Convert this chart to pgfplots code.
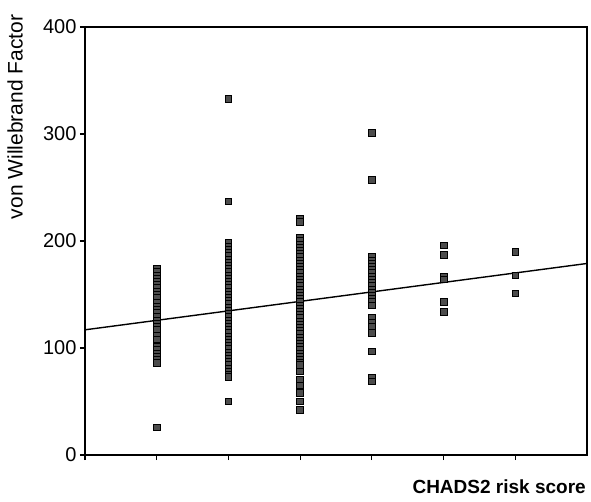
\documentclass[border=0pt]{standalone}
\usepackage{fontspec}
\setmainfont{Liberation Sans}
\usepackage{pgfplots}
\pgfplotsset{compat=1.18}
\begin{document}
\begin{tikzpicture}
\begin{axis}[
  scale only axis,
  width=502pt, height=428pt,
  xmin=-1, xmax=6, ymin=0, ymax=400,
  xtick={-1,0,1,2,3,4,5}, xticklabels={},
  ytick={0,100,200,300,400},
  tick align=outside, tick pos=left,
  major tick length=5pt,
  axis line style={line width=1.6pt},
  every tick/.style={black, line width=1.2pt},
  /pgf/number format/assume math mode=true,
  tick label style={font=\fontsize{20}{22}\selectfont},
  ylabel={von Willebrand Factor},
  ylabel style={at={(axis description cs:-0.139,0.79)}, anchor=center, font=\fontsize{21}{23}\selectfont},
  xlabel={CHADS2 risk score},
  xlabel style={at={(axis description cs:0.825,-0.075)}, anchor=center, font=\fontsize{19}{21}\selectfont\bfseries},
  clip=false,
]
\addplot[only marks, mark=square*, mark size=3.3pt, mark options={fill=black!70, draw=black, line width=0.7pt}] coordinates {
 (0,174) (0,171) (0,168) (0,165) (0,162) (0,159) (0,156) (0,153) (0,150) (0,147)
 (0,142) (0,139) (0,136) (0,133) (0,129) (0,126) (0,123) (0,120) (0,117)
 (0,112) (0,108) (0,101) (0,98) (0,95) (0,92) (0,89) (0,86) (0,26)
 (1,333) (1,237) (1,198) (1,195) (1,192) (1,189) (1,186) (1,183) (1,180) (1,177) (1,174) (1,171)
 (1,168) (1,165) (1,162) (1,159) (1,156) (1,153) (1,150) (1,147) (1,144) (1,141) (1,138)
 (1,135) (1,132) (1,129) (1,126) (1,123) (1,120) (1,117) (1,114) (1,111) (1,108) (1,105)
 (1,102) (1,99) (1,96) (1,93) (1,90) (1,87) (1,84) (1,81) (1,78) (1,75) (1,73) (1,50)
 (2,221) (2,218) (2,203) (2,200) (2,197) (2,194) (2,191) (2,188) (2,185) (2,182) (2,179)
 (2,176) (2,173) (2,170) (2,167) (2,164) (2,161) (2,158) (2,155) (2,152) (2,149) (2,146)
 (2,143) (2,140) (2,137) (2,134) (2,131) (2,128) (2,125) (2,122) (2,119) (2,116) (2,113)
 (2,110) (2,107) (2,104) (2,101) (2,98) (2,95) (2,92) (2,89) (2,86) (2,84)
 (2,78) (2,70) (2,65) (2,58) (2,50) (2,42)
 (3,301) (3,257) (3,185) (3,182) (3,179) (3,176) (3,173) (3,170) (3,167) (3,164) (3,161)
 (3,158) (3,155) (3,152) (3,149) (3,146) (3,143) (3,140)
 (3,128) (3,124) (3,120) (3,114) (3,97) (3,72) (3,69)
 (4,196) (4,187) (4,167) (4,164) (4,143) (4,134)
 (5,190) (5,168) (5,151)
};
\addplot[black, line width=1.4pt] coordinates {(-1,117) (6,179)};
\end{axis}
\pgfresetboundingbox
\path[use as bounding box] ([shift={(-85pt,-46pt)}]current axis.south west) rectangle ([shift={(4pt,27pt)}]current axis.north east);
\end{tikzpicture}
\end{document}
